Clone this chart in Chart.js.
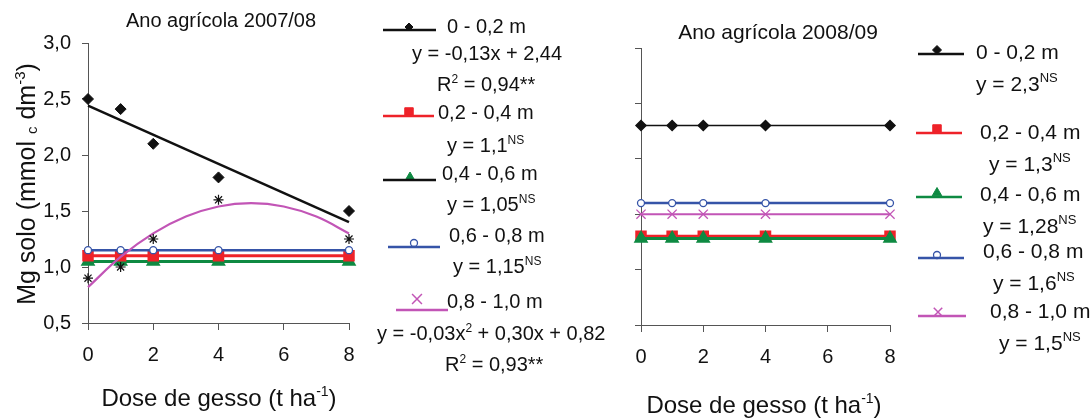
<!DOCTYPE html>
<html>
<head>
<meta charset="utf-8">
<script src="https://cdn.jsdelivr.net/npm/chart.js@4/dist/chart.umd.min.js"></script>
<style>
  body { margin: 0; background: #fff; }
  #wrap { position: relative; width: 1090px; height: 419px; }
  #wrap canvas { position: absolute; left: 0; top: 0; }
</style>
</head>
<body>
<div id="wrap">
  <canvas id="chart0708" width="1090" height="419"></canvas>
  <canvas id="chart0809" width="1090" height="419"></canvas>
</div>
<script>
const FONT = '"Liberation Sans", Arial, Helvetica, sans-serif';

// doses de gesso (t/ha)
const doses = [0, 1, 2, 4, 8];
const fitDoses = [0, 8];
const curveDoses = [0, 1, 2, 3, 4, 5, 6, 7, 8];

// Ano agrícola 2007/08 - Mg no solo (mmolc/dm3)
const mg0708_0_20 = [2.50, 2.41, 2.10, 1.80, 1.50];
const fit0708_0_20 = [2.44, 1.40];                 // y = -0,13x + 2,44
const mg0708_20_40 = [1.10, 1.10, 1.10, 1.10, 1.10];
const mg0708_40_60 = [1.05, 1.05, 1.05, 1.05, 1.05];
const mg0708_60_80 = [1.15, 1.15, 1.15, 1.15, 1.15];
const mg0708_80_100 = [0.90, 1.00, 1.25, 1.60, 1.25];
const fit0708_80_100 = [0.82, 1.09, 1.30, 1.45, 1.54, 1.57, 1.54, 1.45, 1.30]; // y = -0,03x2 + 0,30x + 0,82

// Ano agrícola 2008/09
const mg0809_0_20 = [2.30, 2.30, 2.30, 2.30, 2.30];
const mg0809_20_40 = [1.30, 1.30, 1.30, 1.30, 1.30];
const mg0809_40_60 = [1.28, 1.28, 1.28, 1.28, 1.28];
const mg0809_60_80 = [1.60, 1.60, 1.60, 1.60, 1.60];
const mg0809_80_100 = [1.50, 1.50, 1.50, 1.50, 1.50];

const BLACK = '#111111';
const RED = '#ee2229';
const GREEN = '#0e8a42';
const BLUE = '#3654a8';
const PINK = '#c255b6';
const AXIS = '#555555';

const pts = (xs, ys) => xs.map((x, i) => ({x: x, y: ys[i]}));

// texto com sobrescrito / subscrito: parts = [[texto, 'sup'|'sub'|'']]
function drawRich(ctx, t) {
    const small = Math.round(t.size * 0.6);
    const fontOf = p => (p[1] ? small : t.size) + 'px ' + FONT;
    ctx.save();
    ctx.fillStyle = '#111';
    ctx.textAlign = 'left';
    ctx.textBaseline = 'alphabetic';
    let total = 0;
    for (const p of t.parts) {
        ctx.font = fontOf(p);
        total += ctx.measureText(p[0]).width;
    }
    ctx.translate(t.x, t.y);
    if (t.rotate) ctx.rotate(-Math.PI / 2);
    let x = t.align === 'center' ? -total / 2 : 0;
    for (const p of t.parts) {
        ctx.font = fontOf(p);
        const dy = p[1] === 'sup' ? -t.size * 0.42 : (p[1] === 'sub' ? t.size * 0.08 : 0);
        ctx.fillText(p[0], x, dy);
        x += ctx.measureText(p[0]).width;
    }
    ctx.restore();
}

function drawKey(ctx, k) {
    ctx.save();
    ctx.fillStyle = k.fill;
    ctx.strokeStyle = k.marker;
    ctx.lineWidth = k.markerWidth || 1;
    Chart.helpers.drawPoint(ctx, {pointStyle: k.style, radius: k.radius, rotation: 0, borderWidth: ctx.lineWidth}, k.mx, k.my);
    ctx.strokeStyle = k.color;
    ctx.lineWidth = 2.5;
    ctx.beginPath();
    ctx.moveTo(k.x1, k.y);
    ctx.lineTo(k.x2, k.y);
    ctx.stroke();
    ctx.restore();
}

function notes(texts, keys) {
    return {
        id: 'notes',
        afterDraw(chart) {
            keys.forEach(k => drawKey(chart.ctx, k));
            texts.forEach(t => drawRich(chart.ctx, t));
        }
    };
}

function scales(yWidth, xHeight, showYLabels) {
    return {
        x: {
            type: 'linear', min: 0, max: 8,
            ticks: {stepSize: 2, color: '#111', padding: 13, font: {family: FONT, size: 20}, callback: v => String(v)},
            grid: {drawOnChartArea: false, drawTicks: true, tickLength: 7, color: AXIS},
            border: {color: AXIS, width: 1},
            afterFit: s => { s.height = xHeight; s.paddingLeft = 0; s.paddingRight = 0; }
        },
        y: {
            type: 'linear', min: 0.5, max: 3.0,
            ticks: {
                stepSize: 0.5, padding: 11, font: {family: FONT, size: 20},
                color: showYLabels ? '#111' : 'rgba(0,0,0,0)',
                callback: v => v.toFixed(1).replace('.', ',')
            },
            grid: {drawOnChartArea: false, drawTicks: true, tickLength: 6, color: AXIS},
            border: {color: AXIS, width: 1},
            afterFit: s => { s.width = yWidth; s.paddingTop = 0; s.paddingBottom = 0; }
        }
    };
}

function baseOptions(padding, sc) {
    return {
        responsive: false,
        animation: false,
        events: [],
        layout: {padding: padding},
        scales: sc,
        datasets: {line: {clip: false}},
        plugins: {legend: {display: false}, tooltip: {enabled: false}}
    };
}

// ---- Ano agrícola 2007/08 ----
const texts0708 = [
    {x: 221, y: 27, size: 20, align: 'center', parts: [['Ano agrícola 2007/08', '']]},
    {x: 219, y: 406, size: 24, align: 'center', parts: [['Dose de gesso (t ha', ''], ['-1', 'sup'], [')', '']]},
    {x: 35, y: 184, size: 25, align: 'center', rotate: true,
        parts: [['Mg solo (mmol ', ''], ['c', 'sub'], [' dm', ''], ['-3', 'sup'], [')', '']]},
    {x: 447, y: 33, size: 20, parts: [['0 - 0,2 m', '']]},
    {x: 412, y: 60, size: 20, parts: [['y = -0,13x + 2,44', '']]},
    {x: 437, y: 91, size: 20, parts: [['R', ''], ['2', 'sup'], [' = 0,94**', '']]},
    {x: 438, y: 119, size: 20, parts: [['0,2 - 0,4 m', '']]},
    {x: 447, y: 152, size: 20, parts: [['y = 1,1', ''], ['NS', 'sup']]},
    {x: 442, y: 180, size: 20, parts: [['0,4 - 0,6 m', '']]},
    {x: 447, y: 211, size: 20, parts: [['y = 1,05', ''], ['NS', 'sup']]},
    {x: 449, y: 242, size: 20, parts: [['0,6 - 0,8 m', '']]},
    {x: 453, y: 273, size: 20, parts: [['y = 1,15', ''], ['NS', 'sup']]},
    {x: 447, y: 308, size: 20, parts: [['0,8 - 1,0 m', '']]},
    {x: 377, y: 340, size: 20, parts: [['y = -0,03x', ''], ['2', 'sup'], [' + 0,30x + 0,82', '']]},
    {x: 445, y: 371, size: 20, parts: [['R', ''], ['2', 'sup'], [' = 0,93**', '']]}
];
const keys0708 = [
    {x1: 383, x2: 436, y: 30, color: BLACK, style: 'rectRot', radius: 4, mx: 409, my: 27, fill: BLACK, marker: BLACK},
    {x1: 383, x2: 434, y: 116, color: RED, style: 'rect', radius: 6, mx: 409, my: 112, fill: RED, marker: RED},
    {x1: 383, x2: 436, y: 180, color: BLACK, style: 'triangle', radius: 5, mx: 410, my: 177, fill: GREEN, marker: GREEN},
    {x1: 388, x2: 440, y: 247, color: BLUE, style: 'circle', radius: 3.5, mx: 414, my: 243, fill: '#fff', marker: BLUE, markerWidth: 1.3},
    {x1: 396, x2: 448, y: 310, color: PINK, style: 'crossRot', radius: 7, mx: 417, my: 299, fill: PINK, marker: PINK, markerWidth: 1.5}
];

new Chart(document.getElementById('chart0708'), {
    type: 'line',
    data: {
        datasets: [
            {label: '0 - 0,2 m', data: pts(doses, mg0708_0_20), showLine: false, pointStyle: 'rectRot', pointRadius: 5.5,
                pointBackgroundColor: BLACK, pointBorderColor: BLACK, pointBorderWidth: 1},
            {label: '0,8 - 1,0 m', data: pts(doses, mg0708_80_100), showLine: false, pointStyle: 'star', pointRadius: 5,
                pointBorderColor: BLACK, pointBorderWidth: 1.2},
            {label: 'ajuste 0 - 0,2 m', data: pts(fitDoses, fit0708_0_20), borderColor: BLACK, borderWidth: 2.5, pointRadius: 0},
            {label: 'ajuste 0,8 - 1,0 m', data: pts(curveDoses, fit0708_80_100), borderColor: PINK, borderWidth: 2.2,
                pointRadius: 0, tension: 0.4},
            {label: '0,6 - 0,8 m', data: pts(doses, mg0708_60_80), borderColor: BLUE, borderWidth: 2.5, pointStyle: 'circle',
                pointRadius: 3.5, pointBackgroundColor: '#fff', pointBorderColor: BLUE, pointBorderWidth: 1.3},
            {label: '0,2 - 0,4 m', data: pts(doses, mg0708_20_40), borderColor: RED, borderWidth: 3, pointStyle: 'rect',
                pointRadius: 6, pointBackgroundColor: RED, pointBorderColor: RED},
            {label: '0,4 - 0,6 m', data: pts(doses, mg0708_40_60), borderColor: GREEN, borderWidth: 3, pointStyle: 'triangle',
                pointRadius: 5.5, pointBackgroundColor: GREEN, pointBorderColor: GREEN}
        ]
    },
    options: baseOptions({top: 43, right: 741, bottom: 0, left: 0}, scales(88, 96, true)),
    plugins: [notes(texts0708, keys0708)]
});

// ---- Ano agrícola 2008/09 ----
const texts0809 = [
    {x: 778, y: 39, size: 21, align: 'center', parts: [['Ano agrícola 2008/09', '']]},
    {x: 764, y: 413, size: 24, align: 'center', parts: [['Dose de gesso (t ha', ''], ['-1', 'sup'], [')', '']]},
    {x: 976, y: 59, size: 21, parts: [['0 - 0,2 m', '']]},
    {x: 976, y: 91, size: 21, parts: [['y = 2,3', ''], ['NS', 'sup']]},
    {x: 980, y: 139, size: 21, parts: [['0,2 - 0,4 m', '']]},
    {x: 989, y: 171, size: 21, parts: [['y = 1,3', ''], ['NS', 'sup']]},
    {x: 980, y: 201, size: 21, parts: [['0,4 - 0,6 m', '']]},
    {x: 983, y: 233, size: 21, parts: [['y = 1,28', ''], ['NS', 'sup']]},
    {x: 983, y: 258, size: 21, parts: [['0,6 - 0,8 m', '']]},
    {x: 993, y: 290, size: 21, parts: [['y = 1,6', ''], ['NS', 'sup']]},
    {x: 990, y: 318, size: 21, parts: [['0,8 - 1,0 m', '']]},
    {x: 999, y: 350, size: 21, parts: [['y = 1,5', ''], ['NS', 'sup']]}
];
const keys0809 = [
    {x1: 918, x2: 964, y: 54, color: BLACK, style: 'rectRot', radius: 4.5, mx: 937, my: 50, fill: BLACK, marker: BLACK},
    {x1: 916, x2: 962, y: 133, color: RED, style: 'rect', radius: 6, mx: 937, my: 129, fill: RED, marker: RED},
    {x1: 916, x2: 962, y: 197, color: GREEN, style: 'triangle', radius: 5.5, mx: 937, my: 193, fill: GREEN, marker: GREEN},
    {x1: 918, x2: 964, y: 258, color: BLUE, style: 'circle', radius: 3.5, mx: 937, my: 255, fill: '#fff', marker: BLUE, markerWidth: 1.3},
    {x1: 918, x2: 966, y: 316, color: PINK, style: 'crossRot', radius: 6, mx: 938, my: 312, fill: PINK, marker: PINK, markerWidth: 1.5}
];

new Chart(document.getElementById('chart0809'), {
    type: 'line',
    data: {
        datasets: [
            {label: '0 - 0,2 m', data: pts(doses, mg0809_0_20), borderColor: BLACK, borderWidth: 1.5, pointStyle: 'rectRot',
                pointRadius: 5, pointBackgroundColor: BLACK, pointBorderColor: BLACK},
            {label: '0,4 - 0,6 m', data: pts(doses, mg0809_40_60), borderColor: GREEN, borderWidth: 3, pointStyle: 'triangle',
                pointRadius: 5.5, pointBackgroundColor: GREEN, pointBorderColor: GREEN},
            {label: '0,2 - 0,4 m', data: pts(doses, mg0809_20_40), borderColor: RED, borderWidth: 3, pointStyle: 'rect',
                pointRadius: 6, pointBackgroundColor: RED, pointBorderColor: RED},
            {label: '0,8 - 1,0 m', data: pts(doses, mg0809_80_100), borderColor: PINK, borderWidth: 2, pointStyle: 'crossRot',
                pointRadius: 6.5, pointBorderColor: PINK, pointBorderWidth: 1.3},
            {label: '0,6 - 0,8 m', data: pts(doses, mg0809_60_80), borderColor: BLUE, borderWidth: 2.5, pointStyle: 'circle',
                pointRadius: 3.5, pointBackgroundColor: '#fff', pointBorderColor: BLUE, pointBorderWidth: 1.3}
        ]
    },
    options: baseOptions({top: 48, right: 200, bottom: 0, left: 0}, scales(641, 94, false)),
    plugins: [notes(texts0809, keys0809)]
});
</script>
</body>
</html>
